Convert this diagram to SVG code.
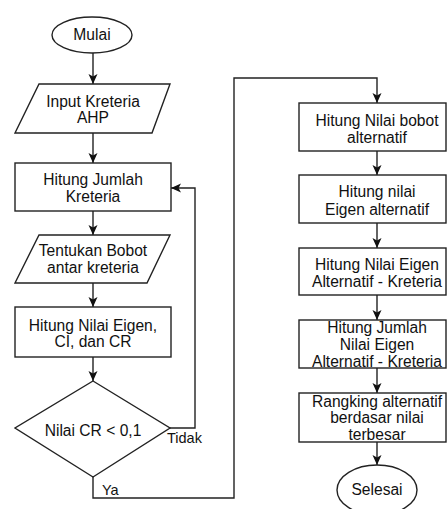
<svg xmlns="http://www.w3.org/2000/svg" width="447" height="509" viewBox="0 0 447 509">
<style>
.s{fill:#fff;stroke:#222;stroke-width:1.4}
.c{fill:none;stroke:#222;stroke-width:1.4}
text{font-family:"Liberation Sans",Arial,sans-serif;font-size:15.6px;fill:#111;text-anchor:middle}
.l{text-anchor:start;font-size:14.5px}
</style>
<defs>
<marker id="a" markerUnits="userSpaceOnUse" markerWidth="12" markerHeight="12" viewBox="0 0 12 12" refX="11" refY="6" orient="auto">
<path d="M1,1.5 L11,6 L1,10.5 L3.5,6 Z" fill="#111"/>
</marker>
</defs>
<g id="connectors">
<path class="c" d="M93,53 V84" marker-end="url(#a)"/>
<path class="c" d="M93,133 V163" marker-end="url(#a)"/>
<path class="c" d="M93,211 V235" marker-end="url(#a)"/>
<path class="c" d="M93,283 V307" marker-end="url(#a)"/>
<path class="c" d="M93,357 V381" marker-end="url(#a)"/>
<path class="c" d="M170,428 H195 V188 H171" marker-end="url(#a)"/>
<path class="c" d="M93,477 V498 H234 V78 H377 V103" marker-end="url(#a)"/>
<path class="c" d="M377,151 V175" marker-end="url(#a)"/>
<path class="c" d="M377,223 V248" marker-end="url(#a)"/>
<path class="c" d="M377,295 V320" marker-end="url(#a)"/>
<path class="c" d="M377,368 V393" marker-end="url(#a)"/>
<path class="c" d="M377,442 V465" marker-end="url(#a)"/>
<text class="l" x="167" y="443">Tidak</text>
<text class="l" x="102" y="495">Ya</text>
</g>
<g id="mulai"><ellipse class="s" cx="92" cy="35" rx="40" ry="18"/><text x="92" y="40">Mulai</text></g>
<g id="input"><polygon class="s" points="39,84 170,84 152,133 15,133"/><text x="93" y="107">Input Kreteria</text><text x="93" y="123">AHP</text></g>
<g id="jumlah"><rect class="s" x="15" y="163" width="156" height="48"/><text x="93" y="185">Hitung Jumlah</text><text x="93" y="202">Kreteria</text></g>
<g id="bobot"><polygon class="s" points="39,235 170,235 147,283 15,283"/><text x="93" y="256">Tentukan Bobot</text><text x="93" y="273">antar kreteria</text></g>
<g id="eigen"><rect class="s" x="15" y="307" width="156" height="50"/><text x="93" y="331">Hitung Nilai Eigen,</text><text x="93" y="347">CI, dan CR</text></g>
<g id="cek"><polygon class="s" points="93,381 170,428 93,477 15,428"/><text x="93" y="436">Nilai CR &lt; 0,1</text></g>
<g id="r1"><rect class="s" x="299" y="103" width="147" height="48"/><text x="377" y="126">Hitung Nilai bobot</text><text x="377" y="143">alternatif</text></g>
<g id="r2"><rect class="s" x="299" y="175" width="147" height="48"/><text x="377" y="197">Hitung nilai</text><text x="377" y="215">Eigen alternatif</text></g>
<g id="r3"><rect class="s" x="299" y="248" width="147" height="47"/><text x="377" y="270">Hitung Nilai Eigen</text><text x="377" y="287">Alternatif - Kreteria</text></g>
<g id="r4"><rect class="s" x="299" y="320" width="147" height="48"/><text x="377" y="333">Hitung Jumlah</text><text x="377" y="350">Nilai Eigen</text><text x="377" y="367">Alternatif - Kreteria</text></g>
<g id="r5"><rect class="s" x="299" y="393" width="147" height="49"/><text x="377" y="407">Rangking alternatif</text><text x="377" y="423">berdasar nilai</text><text x="377" y="440">terbesar</text></g>
<g id="selesai"><ellipse class="s" cx="377" cy="490" rx="40" ry="25"/><text x="377" y="495">Selesai</text></g>
</svg>
